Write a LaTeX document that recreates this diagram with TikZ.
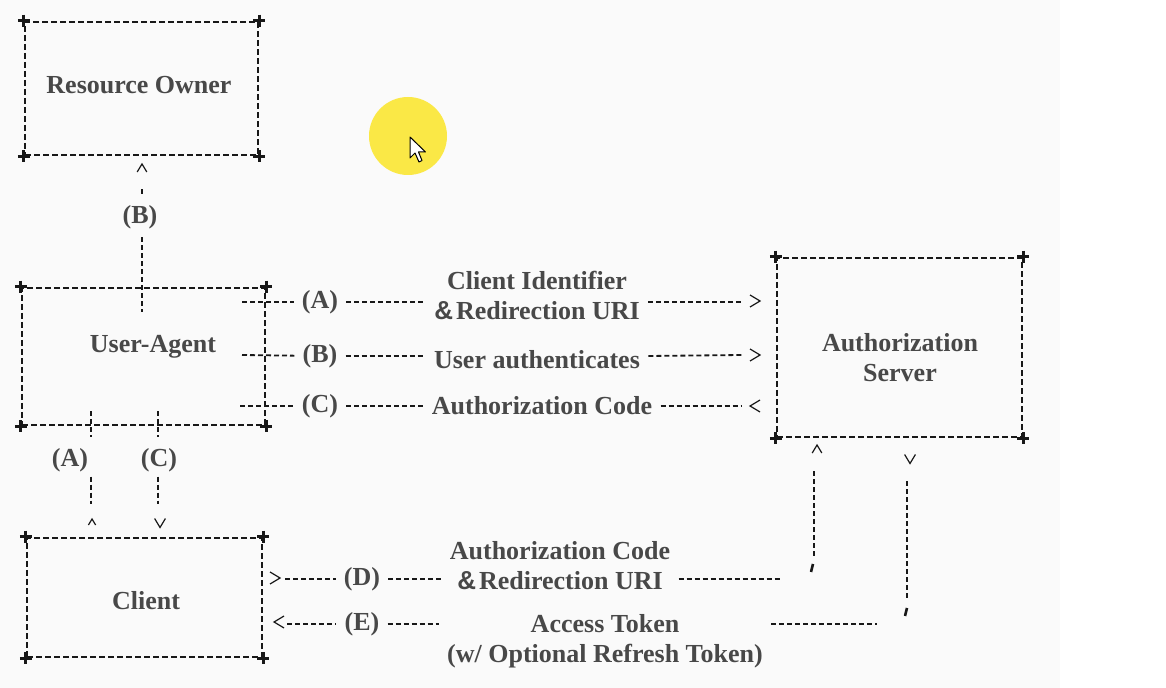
\documentclass[tikz,border=0pt]{standalone}
\usepackage{fontspec}
\setmainfont{Liberation Serif}
\newfontfamily\ampfont{Liberation Sans}
\usetikzlibrary{calc, positioning}

\definecolor{inkgray}{RGB}{72,72,72}
\definecolor{linegray}{RGB}{24,24,24}
\definecolor{hilite}{RGB}{250,232,70}
\definecolor{paper}{RGB}{250,250,250}

\newcommand{\amp}{{\ampfont\bfseries\&}\hspace{1.5pt}}
\newcommand{\pluscorners}[1]{%
	\foreach \c in {north west,north east,south west,south east}
	\draw[line width=1.5pt, linegray] (#1.\c) ++(-6,0) -- ++(12,0) (#1.\c) ++(0,-6) -- ++(0,12);}

\begin{document}
\begin{tikzpicture}[x=0.5pt, y=-0.5pt,
	box/.style={draw=linegray, line width=1.25pt, dash pattern=on 3pt off 1.5pt, inner sep=0pt},
	txt/.style={text=inkgray, font=\fontsize{13}{15}\selectfont\bfseries, align=center, inner sep=4pt},
	flow/.style={draw=linegray, line width=0.9pt, dash pattern=on 2.5pt off 1.5pt},
	asciitip/.pic={\draw[linegray, line width=0.6pt] (-5,-6) -- (5,0) -- (-5,6);},
	kink/.pic={\draw[linegray, line width=1.3pt] (1,-4) -- (-1,4);}]
	\useasboundingbox (0,0) rectangle (1166,688);
	\fill[paper] (0,0) rectangle (1060,688);
	
	% boxes
	\node[box, minimum width=116.5pt, minimum height=66.5pt] (ro) at (141.5,88.5) {};
	\node[box, minimum width=121.5pt, minimum height=68.5pt] (ua) at (143.5,356.5) {};
	\node[box, minimum width=122.5pt, minimum height=89.5pt] (as) at (899.5,347.5) {};
	\node[box, minimum width=117.5pt, minimum height=59.5pt] (cl) at (144.5,597.5) {};
	\pluscorners{ro} \pluscorners{ua} \pluscorners{as} \pluscorners{cl}
	\node[txt] (ro-t) at (139,85) {Resource Owner};
	\node[txt] (ua-t) at (153,347) {User-Agent};
	\node[txt] (as-t) at (900,358) {Authorization\\Server};
	\node[txt] (cl-t) at (146,601) {Client};
	
	% user-agent <-> resource owner
	\node[txt] (lb0) at (140,217) {(B)};
	\pic[rotate=90, scale=0.8] at (142,168) {asciitip};
	\draw[flow] (lb0.north) ++(2,-3) -- ++(0,-8);
	\draw[flow] (lb0.south) ++(2,0) -- ++(0,75);
	
	% user-agent <-> authorization server
	\coordinate (a0) at (242,302);
	\coordinate (a1) at (742,302);
	\node[txt] (la) at (320,302) {(A)};
	\node[txt] (ta) at (537,295) {Client Identifier\\\amp Redirection URI};
	\draw[flow] (a0) -- (la);
	\draw[flow] (la) -- (ta.west |- la);
	\draw[flow] (ta.east |- la) -- (a1);
	\pic at (755,301) {asciitip};
	
	\coordinate (b0) at (242,355);
	\coordinate (b1) at (742,355);
	\node[txt] (lb) at (320,356) {(B)};
	\node[txt] (tb) at (537,360) {User authenticates};
	\draw[flow] (b0) -- (lb);
	\draw[flow] (lb) -- (tb.west |- lb);
	\draw[flow] (tb.east |- lb) -- (b1);
	\pic at (755,355) {asciitip};
	
	\coordinate (c0) at (240,406);
	\coordinate (c1) at (742,406);
	\node[txt] (lc) at (320,406) {(C)};
	\node[txt] (tc) at (542,406) {Authorization Code};
	\draw[flow] (c0) -- (lc);
	\draw[flow] (lc) -- (tc.west |- lc);
	\draw[flow] (tc.east |- lc) -- (c1);
	\pic[rotate=180] at (755,406) {asciitip};
	
	% user-agent <-> client
	\node[txt] (la2) at (70,460) {(A)};
	\node[txt] (lc2) at (159,460) {(C)};
	\draw[flow] (ua.south west) ++(70,-15) -- ++(0,26);
	\draw[flow] (ua.south west) ++(137,-15) -- ++(0,26);
	\draw[flow] (cl.north west) ++(65,-60) -- ++(0,27);
	\draw[flow] (cl.north west) ++(132,-60) -- ++(0,27);
	\pic[rotate=90, scale=0.6] at (92,522) {asciitip};
	\pic[rotate=-90, scale=0.9] at (160,523) {asciitip};
	
	% client <-> authorization server
	\coordinate (d0) at (285,579);
	\coordinate (d1) at (780,579);
	\node[txt] (ld) at (362,579) {(D)};
	\node[txt] (td) at (560,566) {Authorization Code\\\amp Redirection URI};
	\draw[flow] (d0) -- (ld);
	\draw[flow] (ld) -- (td.west |- ld);
	\draw[flow] (td.east |- ld) -- (d1);
	\pic at (275,578) {asciitip};
	
	\coordinate (e0) at (287,624);
	\coordinate (e1) at (877,624);
	\node[txt] (le) at (362,624) {(E)};
	\node[txt] (te) at (605,641) {Access Token\\(w/ Optional Refresh Token)};
	\draw[flow] (e0) -- (le);
	\draw[flow] (le) -- (te.west |- le);
	\draw[flow] (te.east |- le) -- (e1);
	\pic[rotate=180] at (279,622) {asciitip};
	
	\pic[rotate=90, scale=0.8] at (817,449) {asciitip};
	\draw[flow] (as.south west) ++(38,33) -- ++(0,85);
	\pic at (812,568) {kink};
	\pic[rotate=-90, scale=0.9] at (910,459) {asciitip};
	\draw[flow] (as.south west) ++(131,43) -- ++(0,120);
	\pic at (906,612) {kink};
	
	% pointer highlight
	\fill[hilite] (408,136) circle (39);
	\draw[black, fill=white, line width=0.5pt, line join=round]
	(410,137) -- ++(0,21) -- ++(5,-5) -- ++(4,9) -- ++(3,-1.5) -- ++(-3.5,-8.5) -- ++(7,0) -- cycle;
\end{tikzpicture}
\end{document}
